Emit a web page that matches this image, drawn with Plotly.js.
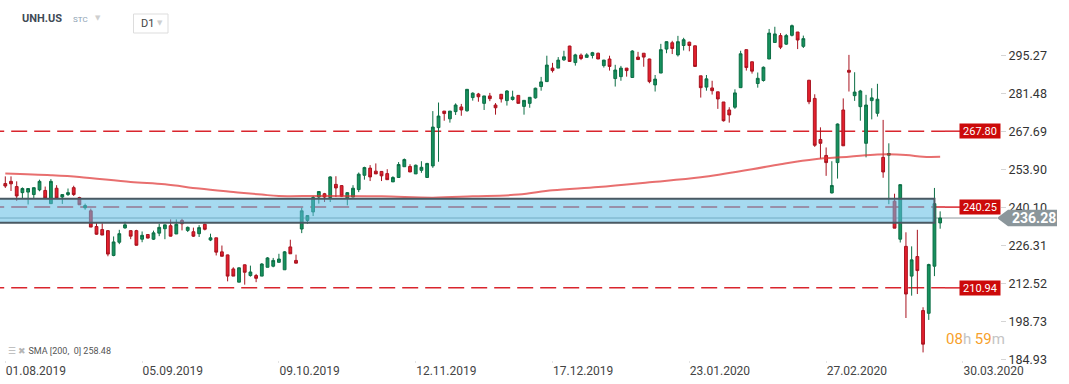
<!DOCTYPE html>
<html><head><meta charset="utf-8">
<script src="https://cdn.plot.ly/plotly-3.0.1.min.js"></script>
<style>html,body{margin:0;padding:0;background:#fff;}#chart{width:1069px;height:384px;}</style>
</head><body><div id="chart"></div>
<script>
// ---- data ----
const openP = [248.8,249.6,247.7,245.5,245.7,244.8,246.5,246.3,241.5,247.1,
243.9,244.8,247.3,243.7,240.0,238.9,233.2,232.1,231.7,222.7,
227.5,232.7,231.7,231.7,228.6,230.3,228.6,230.8,232.4,233.5,
230.5,235.4,231.8,231.3,230.6,234.0,228.3,229.1,224.0,222.9,
217.8,213.0,219.3,215.4,215.4,215.2,218.4,218.8,220.2,217.5,
225.8,220.9,232.3,235.4,238.5,243.9,245.1,243.7,248.5,248.05,
243.6,243.9,246.6,251.8,254.4,253.3,253.2,252.4,249.4,251.0,
254.9,255.0,252.3,253.6,251.0,255.2,269.1,275.1,272.3,274.9,
276.6,275.2,280.0,281.3,277.9,280.6,277.3,281.2,278.9,279.3,
280.8,276.8,277.9,279.9,284.0,285.8,290.7,290.7,293.7,298.7,
292.7,295.4,294.6,295.3,296.1,291.6,294.0,286.9,287.6,290.7,
287.3,294.7,296.1,294.0,284.6,288.9,297.6,299.9,295.5,298.9,
300.1,298.8,287.9,283.8,283.5,282.1,278.4,275.5,276.5,283.6,
297.4,293.0,285.1,286.2,294.0,300.0,302.5,299.4,302.6,303.8,
298.6,286.3,279.7,264.8,259.0,245.4,256.4,275.5,289.9,280.7,
276.7,263.4,278.9,274.3,258.3,259.1,242.4,228.6,226.0,215.2,
222.3,202.7,201.7,218.8,234.5];
const highP = [251.4,251.4,249.6,247.4,247.1,247.4,250.2,247.7,250.4,248.2,
244.8,247.0,248.0,244.0,241.5,239.7,234.4,234.4,231.9,229.6,
232.0,235.0,231.8,232.0,231.4,230.4,231.7,234.2,233.9,235.8,
235.8,236.0,233.2,232.8,233.7,234.3,230.6,229.1,226.3,223.0,
218.4,218.4,219.4,219.0,216.0,219.9,222.1,221.8,223.3,224.3,
228.4,223.0,240.0,237.2,244.3,245.9,245.4,251.45,251.45,248.2,
245.7,248.2,252.8,254.9,255.5,256.1,253.3,254.0,251.45,256.6,
257.9,255.8,255.7,256.9,256.3,275.1,278.2,275.1,275.1,277.9,
277.7,283.1,281.9,281.7,280.6,281.7,278.0,281.3,282.7,282.5,
280.8,279.1,280.2,283.6,287.5,295.2,292.6,294.7,297.0,298.8,
295.9,296.0,296.1,296.6,296.3,293.7,295.2,291.9,291.5,290.7,
297.2,296.6,296.1,294.1,288.2,299.5,300.4,300.6,302.4,301.7,
300.3,298.8,287.9,288.2,286.1,282.1,278.4,276.5,283.0,297.0,
297.4,293.0,289.1,291.3,304.9,305.7,303.4,303.1,306.5,303.8,
302.5,286.4,281.2,269.2,261.9,256.9,270.6,279.7,295.5,289.2,
282.8,281.0,283.4,285.0,271.9,263.4,245.1,248.5,231.1,226.0,
232.0,203.9,219.7,247.2,238.7];
const lowP = [247.2,246.1,242.5,243.3,241.2,243.3,246.0,243.3,241.5,243.3,
241.4,244.3,244.3,241.1,239.3,233.0,230.2,230.1,222.4,222.4,
226.8,232.4,228.6,226.3,227.5,228.9,228.3,229.7,228.6,229.6,
230.5,231.8,231.2,229.4,229.4,231.8,227.9,222.7,222.4,213.3,
215.2,213.0,212.1,215.0,213.0,215.2,218.4,218.4,220.2,217.5,
223.3,219.9,230.8,234.2,237.0,241.5,242.1,242.1,243.9,243.9,
240.9,243.9,245.7,250.2,249.7,252.3,249.7,250.2,249.4,251.0,
254.9,253.0,252.3,252.7,251.0,254.5,256.7,271.6,270.9,273.7,
273.4,274.9,278.9,278.5,275.5,278.7,273.8,278.2,277.1,278.9,
277.9,273.8,276.3,279.6,282.5,285.8,289.1,290.7,293.3,293.1,
291.6,293.6,294.6,294.2,294.0,290.9,289.8,284.0,286.1,287.6,
287.3,293.7,291.2,285.2,282.2,288.9,296.1,295.8,294.9,297.1,
296.8,291.3,280.0,282.5,281.1,275.9,271.3,270.9,275.9,283.6,
289.8,288.7,283.6,285.8,294.0,300.0,297.6,299.1,302.2,297.6,
298.0,277.6,262.1,257.9,251.6,245.2,250.6,262.5,282.2,278.8,
271.6,258.3,272.1,273.1,250.9,241.3,232.6,227.4,200.0,208.1,
208.7,187.5,199.3,215.2,232.4];
const closeP = [247.9,248.7,244.3,247.0,247.0,247.3,249.6,243.5,249.6,243.5,
244.8,245.5,244.8,241.1,240.8,233.0,230.4,230.1,223.2,227.6,
230.6,233.8,229.7,226.4,230.0,229.0,230.9,232.9,233.8,229.7,
234.0,234.2,232.9,229.7,232.8,232.2,229.1,223.9,222.4,215.2,
215.2,218.2,216.6,216.7,214.4,219.6,221.8,220.9,221.4,224.0,
223.3,219.9,238.9,237.2,243.7,245.9,243.9,251.2,247.2,244.2,
245.5,247.1,252.2,254.6,251.2,252.3,251.6,250.2,251.0,255.7,
257.5,253.0,255.45,254.7,256.1,269.3,273.3,274.2,275.1,277.3,
275.5,283.0,281.6,280.3,280.6,279.6,276.3,279.5,282.4,280.2,
277.9,279.0,280.1,283.4,285.7,291.8,289.8,293.6,294.8,293.1,
295.5,294.2,295.5,296.3,294.0,293.6,291.3,290.0,290.7,289.8,
296.9,293.8,294.7,285.8,286.7,297.4,300.3,297.8,300.3,301.0,
298.9,291.3,283.6,286.8,282.5,279.5,271.6,273.7,281.7,295.9,
290.9,289.6,287.0,291.0,303.4,303.1,298.3,302.5,306.1,300.9,
301.4,278.5,262.7,263.4,256.4,248.1,270.4,262.5,289.2,282.0,
282.4,277.3,279.9,279.4,253.0,259.7,232.6,248.4,208.7,221.1,
217.2,190.5,219.4,241.5,236.28];
const smaIdx = [0,8,13,22,28,34,40,45,48,55,66,75,82,90,96,104,113,122,131,136,142,148,153,158,161,164];
const smaVal = [252.43,251.81,251.19,249.37,248.53,246.96,245.73,244.78,244.27,244.27,244.16,243.68,244.16,244.78,246.35,247.55,249.26,251.08,254.0,255.82,257.64,258.5,259.35,259.2,258.5,258.48];
const tickIdx = [0,24,48,72,96,120,144,168];
const tickText = ['01.08.2019','05.09.2019','09.10.2019','12.11.2019','17.12.2019','23.01.2020','27.02.2020','30.03.2020'];
const priceTicks = [295.27,281.48,267.69,253.90,240.10,226.31,212.52,198.73,184.93];
const levels = [267.80,240.25,210.94];
const zoneTop = 243.3, zoneBottom = 234.6, zoneEndIdx = 163;
const currentPrice = 236.28;
const smaLabel = 'SMA [200,  0] 258.48';
const symbol = 'UNH.US', symbolType = 'STC', period = 'D1';

// ---- layout helpers ----
const PH = 360; // plot height in px
const xRange = [-0.93, 174.5];
const yRange = [184.75, 315.42];
const px2x = p => xRange[0] + p * (xRange[1] - xRange[0]);
const py = v => (v - yRange[0]) / (yRange[1] - yRange[0]);
const pyPix = p => 1 - p / PH;
const idx = openP.map((_, i) => i);

const traces = [
  {type:'scatter', mode:'lines', x:smaIdx, y:smaVal, line:{color:'rgba(222,50,50,0.7)', width:2, shape:'spline'}, hoverinfo:'skip', showlegend:false},
  {type:'candlestick', x:idx, open:openP, high:highP, low:lowP, close:closeP,
   increasing:{line:{color:'#0c6e45', width:1}, fillcolor:'#16915e'},
   decreasing:{line:{color:'#a8131f', width:1}, fillcolor:'#e4202e'},
   whiskerwidth:0, hoverinfo:'skip', showlegend:false}
];

const shapes = [];
shapes.push({type:'line', xref:'x', yref:'y', x0:-3, x1:px2x(0.997), y0:currentPrice, y1:currentPrice, line:{color:'#8d979c', width:1}, layer:'below'});
levels.forEach(v => {
  shapes.push({type:'line', xref:'x', yref:'y', x0:-3, x1:px2x(0.945), y0:v, y1:v, line:{color:'#d9252d', width:1.5, dash:'16px,7px'}, layer:'below'});
  shapes.push({type:'line', xref:'x', yref:'y', x0:px2x(0.945), x1:px2x(0.96), y0:v, y1:v, line:{color:'#d9252d', width:1.5}, layer:'below'});
});
shapes.push({type:'rect', xref:'x', yref:'y', x0:-3, x1:zoneEndIdx, y0:zoneBottom, y1:zoneTop, fillcolor:'rgba(93,188,228,0.55)', line:{color:'#4a5963', width:2}, layer:'above'});
const yc = py(currentPrice), hh = 8.3/PH;
shapes.push({type:'path', xref:'paper', yref:'paper', path:`M 0.997,${yc} L 1.008,${yc+hh} L 1.057,${yc+hh} L 1.057,${yc-hh} L 1.008,${yc-hh} Z`, fillcolor:'#8b969b', line:{width:0}});
shapes.push({type:'rect', xref:'paper', yref:'paper', x0:0.1335, x1:0.168, y0:pyPix(33), y1:pyPix(14), line:{color:'#dddddd', width:1}, fillcolor:'rgba(0,0,0,0)'});

const F = 'Roboto, "Open Sans", sans-serif';
const annotations = [];
levels.forEach(v => annotations.push({xref:'paper', yref:'paper', x:0.98, y:py(v), text:v.toFixed(2), showarrow:false, xanchor:'center', yanchor:'middle', bgcolor:'#cc0a0a', width:38, height:12, borderpad:1, font:{family:F, size:11, color:'#ffffff'}}));
annotations.push({xref:'paper', yref:'paper', x:1.034, y:yc, text:'<b>'+currentPrice.toFixed(2)+'</b>', showarrow:false, xanchor:'center', yanchor:'middle', font:{family:F, size:14, color:'#ffffff'}});
annotations.push({xref:'paper', yref:'paper', x:0.0195, y:pyPix(18), text:'<b>'+symbol+'</b>', showarrow:false, xanchor:'left', yanchor:'middle', font:{family:F, size:11, color:'#3f4b56'}});
annotations.push({xref:'paper', yref:'paper', x:0.071, y:pyPix(19.5), text:symbolType, showarrow:false, xanchor:'left', yanchor:'middle', font:{family:F, size:8, color:'#8ea2b4'}});
annotations.push({xref:'paper', yref:'paper', x:0.093, y:pyPix(18), text:'▼', showarrow:false, xanchor:'left', yanchor:'middle', font:{family:'DejaVu Sans', size:7, color:'#cfcfcf'}});
annotations.push({xref:'paper', yref:'paper', x:0.1385, y:pyPix(23), text:period, showarrow:false, xanchor:'left', yanchor:'middle', font:{family:F, size:11, color:'#444'}});
annotations.push({xref:'paper', yref:'paper', x:0.155, y:pyPix(23), text:'▼', showarrow:false, xanchor:'left', yanchor:'middle', font:{family:'DejaVu Sans', size:7, color:'#cfcfcf'}});
annotations.push({xref:'paper', yref:'paper', x:0.006, y:pyPix(350.5), text:'<span style="color:#b5b5b5">☰ ✖</span> '+smaLabel, showarrow:false, xanchor:'left', yanchor:'middle', font:{family:F, size:9, color:'#555'}});
annotations.push({xref:'paper', yref:'paper', x:0.944, y:pyPix(339), text:'<span style="color:#f7a12c">08</span><span style="color:#c4c4c4">h </span><span style="color:#f7a12c">59</span><span style="color:#c4c4c4">m</span>', showarrow:false, xanchor:'left', yanchor:'middle', font:{family:F, size:15, color:'#f7a12c'}});

const layout = {
  width:1069, height:384,
  margin:{l:0, r:69, t:0, b:384-PH},
  paper_bgcolor:'#ffffff', plot_bgcolor:'#ffffff',
  showlegend:false,
  xaxis:{range:xRange, tickvals:tickIdx, ticktext:tickText, ticklabelposition:'outside right', ticks:'outside', ticklen:2, tickcolor:'#e3e3e3',
         showgrid:false, zeroline:false, showline:false, rangeslider:{visible:false}, fixedrange:true,
         tickfont:{family:F, size:12, color:'#444'}},
  yaxis:{side:'right', range:yRange, tickvals:priceTicks, ticktext:priceTicks.map(v=>v.toFixed(2)), ticks:'outside', ticklen:5, tickcolor:'#d5d5d5',
         showgrid:false, zeroline:false, showline:false, fixedrange:true,
         tickfont:{family:F, size:12.5, color:'#333'}},
  shapes:shapes, annotations:annotations
};
Plotly.newPlot('chart', traces, layout, {staticPlot:true, displayModeBar:false});
</script></body></html>
